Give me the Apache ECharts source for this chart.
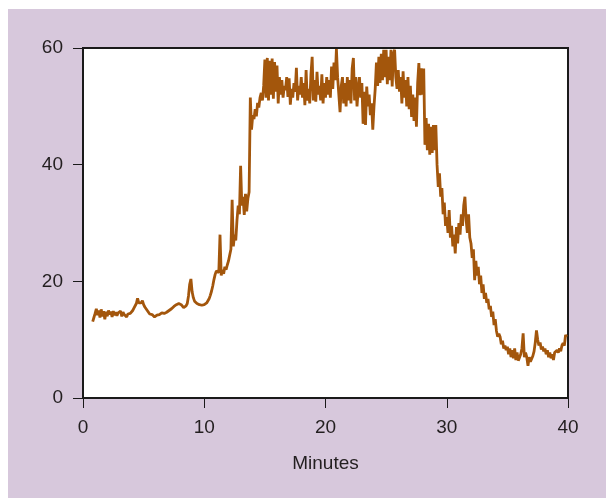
<!DOCTYPE html>
<html>
<head>
<meta charset="utf-8">
<script src="https://cdn.jsdelivr.net/npm/echarts@6/dist/echarts.min.js"></script>
<style>
html,body{margin:0;padding:0;background:#ffffff;width:606px;height:498px;overflow:hidden;}
#chart{position:absolute;left:8px;top:9px;width:598px;height:489px;background:#d7c8dc;}
</style>
</head>
<body>
<div id="chart"></div>
<script>
// sample times: start 0.8 min, every 0.1 min
const startTime = 0.8;
const timeStep = 0.1;
// values, one per 0.1 minute
const values = [
  13.1, 13.8,
  14.5, 15.3, 14.2, 15.0, 13.8, 15.2, 14.0, 14.9, 13.5, 14.8,
  14.0, 15.0, 14.3, 14.8, 13.9, 14.9, 14.2, 14.7, 14.1, 14.6,
  14.3, 14.9, 14.0, 14.7, 14.3, 14.6, 13.9, 14.4, 14.6, 14.5,
  14.8, 15.0, 15.4, 15.7, 16.2, 17.1, 16.3, 16.6, 16.3, 16.7,
  16.0, 15.6, 15.4, 15.0, 14.8, 14.4, 14.2, 14.3, 14.0, 13.9,
  14.1, 14.2, 14.4, 14.3, 14.5, 14.6, 14.5, 14.5, 14.6, 14.7,
  14.9, 15.0, 15.2, 15.3, 15.5, 15.7, 15.8, 16.0, 16.1, 16.2,
  16.3, 16.0, 15.7, 15.5, 15.6, 15.8, 16.2, 17.5, 19.5, 20.4,
  18.2, 17.2, 16.6, 16.3, 16.2, 16.0, 16.0, 15.9, 15.9, 16.0,
  16.0, 16.1, 16.3, 16.6, 17.0, 17.6, 18.3, 19.2, 20.3, 21.2,
  21.8, 21.9, 21.5, 28.0, 21.0, 22.0, 21.3, 22.5, 22.0, 22.8,
  23.5, 24.5, 25.5, 34.0, 26.0, 28.0, 27.0, 30.5, 33.0, 31.5,
  39.8, 33.0, 34.5, 31.4, 35.0, 32.0, 34.2, 35.3, 51.5, 46.0,
  48.5, 47.8, 49.5, 48.3, 50.6, 49.8, 51.5, 52.3, 51.0, 53.5,
  58.0, 51.5, 58.3, 51.0, 57.8, 52.0, 58.2, 51.3, 57.6, 52.5,
  57.0, 50.5, 55.0, 52.0, 54.5, 51.5, 53.5, 52.8, 55.0, 51.6,
  54.8, 50.3, 53.0, 51.5, 54.0, 52.5, 56.6, 51.0, 53.5, 52.0,
  55.0, 51.5, 54.0, 50.2, 56.2, 51.0, 53.0, 50.5, 55.5, 58.5,
  51.0, 54.5, 50.8, 55.9, 52.0, 53.5, 51.0, 55.5, 50.5, 54.0,
  51.5, 55.0, 52.0, 54.5, 51.5, 56.8, 53.0, 57.5, 54.5, 59.8,
  55.0, 52.0, 49.0, 53.5, 55.0, 50.5, 54.0, 50.0, 55.0, 51.0,
  54.5, 50.5, 56.5, 58.3, 51.0, 55.0, 50.0, 53.0, 55.0, 51.5,
  54.0, 47.0, 52.5, 46.8, 53.4, 50.0, 52.0, 48.5, 50.5, 46.0,
  50.0, 53.0, 57.5, 53.5, 58.5, 54.0, 59.0, 54.5, 59.7, 55.0,
  59.7, 53.8, 58.5, 54.5, 59.7, 53.4, 59.0, 59.7, 55.0, 53.0,
  56.2, 52.5, 55.0, 50.5, 56.0, 51.5, 54.5, 50.0, 55.0, 49.5,
  53.5, 48.2, 52.0, 47.5, 51.5, 46.5, 54.0, 57.4, 51.9, 56.5,
  52.0, 56.5, 43.4, 48.0, 42.5, 47.0, 41.7, 46.5, 42.0, 46.8,
  42.5, 46.8, 40.0, 36.2, 38.5, 34.5, 36.0, 31.5, 33.5, 29.5,
  31.0, 28.3, 32.2, 27.5, 29.5, 26.0, 28.0, 24.8, 29.3, 26.5,
  30.0, 28.0, 31.5, 29.5, 33.0, 34.5, 30.5, 28.3, 31.5, 27.5,
  26.5, 24.0, 25.5, 20.2, 23.5, 21.0, 22.5, 19.5, 21.0, 18.0,
  19.5, 17.0, 18.0, 16.3, 17.0, 15.2, 15.8, 13.9, 14.8, 12.5,
  13.5, 11.5, 10.5, 11.0, 10.5, 9.2, 9.8, 8.5, 9.0, 8.2,
  8.8, 7.5, 8.5, 7.0, 8.2, 6.8, 8.5, 6.5, 7.8, 6.4,
  6.2, 7.5, 8.5, 11.1, 7.0, 7.8, 7.0, 5.5, 7.0, 6.2,
  6.5, 7.2, 8.0, 9.5, 11.6, 10.0, 9.0, 9.5, 8.3, 8.8,
  8.0, 8.5, 7.5, 8.2, 7.0, 7.8, 6.8, 7.5, 6.5, 7.8,
  7.5, 8.2, 7.8, 8.5, 8.0, 9.0, 9.4, 9.0, 10.8, 10.5
];
const xTicks = [0, 10, 20, 30, 40];
const yTicks = [0, 20, 40, 60];
const xTitle = 'Minutes';

const points = values.map((v, i) => [Math.round((startTime + i * timeStep) * 100) / 100, v]);

const chart = echarts.init(document.getElementById('chart'), null, {renderer: 'canvas'});
const font = "'Liberation Sans', Arial, sans-serif";
chart.setOption({
  animation: false,
  grid: {left: 75, top: 39, width: 485, height: 350, show: true, backgroundColor: '#ffffff', borderColor: '#1a1a1a', borderWidth: 2},
  xAxis: {
    type: 'value', min: xTicks[0], max: xTicks[xTicks.length - 1], interval: 10,
    name: xTitle, nameLocation: 'middle', nameGap: 56,
    nameTextStyle: {fontFamily: font, fontSize: 19, color: '#231f20'},
    axisLine: {show: true, lineStyle: {color: '#1a1a1a', width: 2}},
    axisTick: {show: true, length: 10, lineStyle: {color: '#1a1a1a', width: 1}},
    axisLabel: {fontFamily: font, fontSize: 19, color: '#231f20', margin: 20},
    splitLine: {show: false}
  },
  yAxis: {
    type: 'value', min: yTicks[0], max: yTicks[yTicks.length - 1], interval: 20,
    axisLine: {show: true, lineStyle: {color: '#1a1a1a', width: 2}},
    axisTick: {show: true, length: 10, lineStyle: {color: '#1a1a1a', width: 1}},
    axisLabel: {fontFamily: font, fontSize: 19, color: '#231f20', margin: 20},
    splitLine: {show: false}
  },
  series: [{
    type: 'line', data: points, showSymbol: false, symbol: 'none',
    lineStyle: {color: '#a3560c', width: 2.8}, z: 1
  }]
});
</script>
</body>
</html>
